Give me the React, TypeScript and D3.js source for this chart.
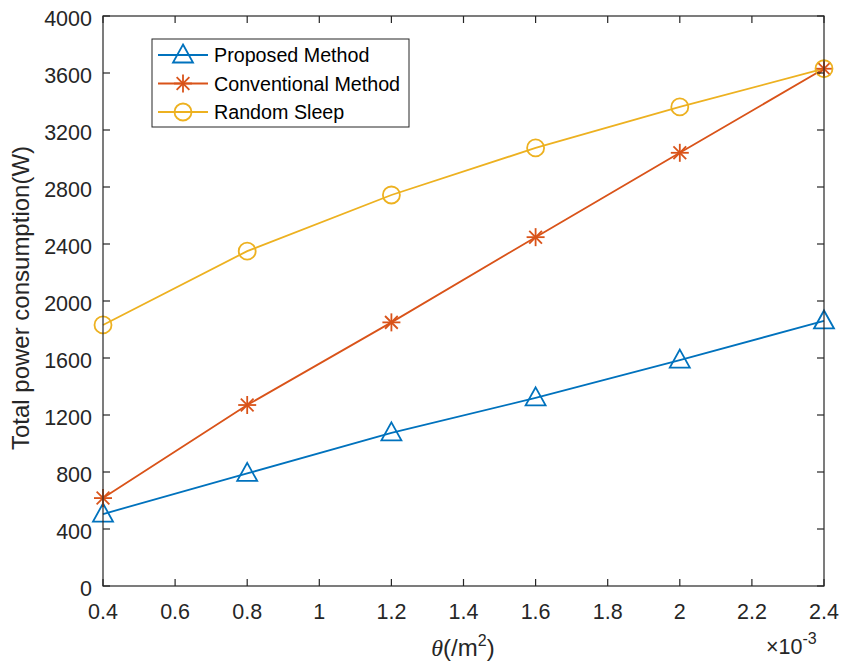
import React from "react";
import * as d3 from "d3";

const xValues = [0.4, 0.8, 1.2, 1.6, 2.0, 2.4];
const proposed = [505, 790, 1075, 1320, 1585, 1860];
const conventional = [617, 1270, 1850, 2448, 3040, 3630];
const randomSleep = [1832, 2350, 2744, 3074, 3362, 3630];
const xTicks = [0.4, 0.6, 0.8, 1, 1.2, 1.4, 1.6, 1.8, 2, 2.2, 2.4];
const yTicks = [0, 400, 800, 1200, 1600, 2000, 2400, 2800, 3200, 3600, 4000];
const seriesNames = ["Proposed Method", "Conventional Method", "Random Sleep"];
const colors = ["#0072BD", "#D95319", "#EDB120"];

const W = 842, H = 663;
const L = 103, R = 824, T = 16, B = 586;
const font = "'Liberation Sans', Arial, Helvetica, sans-serif";
const axisColor = "#262626";

function Marker({ kind, x, y, color }: { kind: number; x: number; y: number; color: string }) {
  if (kind === 0) {
    const hw = 10, h = 17;
    const p = `M${x},${y - h / 2 - 2} L${x + hw},${y + h / 2 - 1} L${x - hw},${y + h / 2 - 1} Z`;
    return <path d={p} fill="none" stroke={color} strokeWidth={1.8} />;
  }
  if (kind === 1) {
    const r = 9;
    const lines = [0, 45, 90, 135].map((a) => {
      const rad = (a * Math.PI) / 180;
      return (
        <line key={a} x1={x - r * Math.cos(rad)} y1={y - r * Math.sin(rad)} x2={x + r * Math.cos(rad)} y2={y + r * Math.sin(rad)} stroke={color} strokeWidth={1.8} />
      );
    });
    return <g>{lines}</g>;
  }
  return <circle cx={x} cy={y} r={8.5} fill="none" stroke={color} strokeWidth={1.8} />;
}

export default function App() {
  const x = d3.scaleLinear().domain([0.4, 2.4]).range([L, R]);
  const y = d3.scaleLinear().domain([0, 4000]).range([B, T]);
  const all = [proposed, conventional, randomSleep];
  const line = d3.line<number>().x((_, i) => x(xValues[i])).y((d) => y(d));
  const tl = 7;
  return (
    <svg width={W} height={H} style={{ position: "absolute", left: 0, top: 0, background: "#fff" }} fontFamily={font}>
      <rect x={0} y={0} width={W} height={H} fill="#fff" />
      {all.map((s, k) => (
        <g key={k}>
          <path d={line(s) || ""} fill="none" stroke={colors[k]} strokeWidth={1.8} />
        </g>
      ))}
      {all.map((s, k) => (
        <g key={"m" + k}>
          {s.map((v, i) => (
            <Marker key={i} kind={k} x={x(xValues[i])} y={y(v)} color={colors[k]} />
          ))}
        </g>
      ))}
      <rect x={L} y={T} width={R - L} height={B - T} fill="none" stroke={axisColor} strokeWidth={1.2} />
      {xTicks.map((t) => (
        <g key={"xt" + t}>
          <line x1={x(t)} x2={x(t)} y1={B} y2={B - tl} stroke={axisColor} strokeWidth={1.2} />
          <line x1={x(t)} x2={x(t)} y1={T} y2={T + tl} stroke={axisColor} strokeWidth={1.2} />
          <text x={x(t)} y={619} textAnchor="middle" fontSize={21.5} fill={axisColor}>{String(t)}</text>
        </g>
      ))}
      {yTicks.map((t) => (
        <g key={"yt" + t}>
          <line x1={L} x2={L + tl} y1={y(t)} y2={y(t)} stroke={axisColor} strokeWidth={1.2} />
          <line x1={R} x2={R - tl} y1={y(t)} y2={y(t)} stroke={axisColor} strokeWidth={1.2} />
          <text x={92} y={y(t) + 10} textAnchor="end" fontSize={21.5} fill={axisColor}>{String(t)}</text>
        </g>
      ))}
      <text x={766} y={654} fontSize={21.5} fill={axisColor}>
        ×10<tspan dy={-10} fontSize={16}>-3</tspan>
      </text>
      <text x={463} y={656} textAnchor="middle" fontSize={24} fill={axisColor}>
        <tspan fontStyle="italic" fontFamily="'Liberation Serif', 'Times New Roman', serif">θ</tspan>
        <tspan>(/m</tspan>
        <tspan dy={-10} fontSize={16}>2</tspan>
        <tspan dy={10}>)</tspan>
      </text>
      <text transform={`translate(29,298) rotate(-90)`} textAnchor="middle" fontSize={24} fill={axisColor}>
        Total power consumption(W)
      </text>
      <rect x={152} y={39} width={257} height={88} fill="#fff" stroke={axisColor} strokeWidth={1} />
      {seriesNames.map((n, k) => {
        const ly = 55 + k * 28.5;
        return (
          <g key={"lg" + k}>
            <line x1={158} x2={208} y1={ly} y2={ly} stroke={colors[k]} strokeWidth={1.8} />
            <Marker kind={k} x={183} y={ly} color={colors[k]} />
            <text x={214} y={ly + 7} fontSize={19.7} fill="#000">{n}</text>
          </g>
        );
      })}
    </svg>
  );
}
